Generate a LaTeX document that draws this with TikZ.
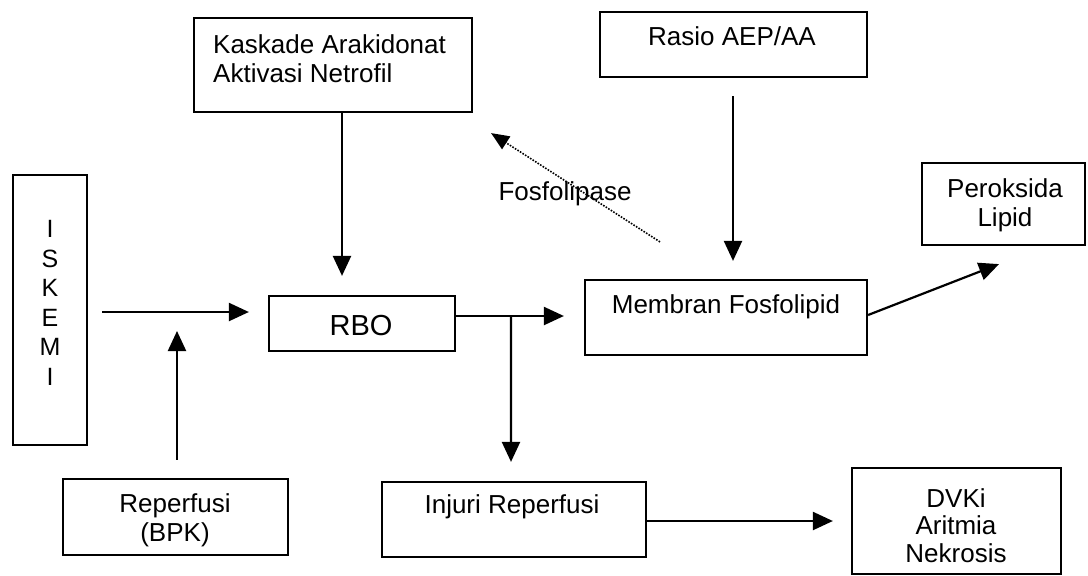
\documentclass[tikz,border=0pt]{standalone}
\usepackage{fontspec}
\setmainfont{Liberation Sans}
\usetikzlibrary{arrows.meta}
\begin{document}
\begin{tikzpicture}[x=1pt,y=-1pt,
  box/.style={draw=black, line width=2.2pt, rectangle, inner sep=0pt},
  txt/.style={inner sep=0pt, font=\fontsize{26}{29}\selectfont, text=black},
  arr/.style={draw=black, line width=2.2pt, -{Triangle[length=20pt,width=18pt]}},
  darr/.style={draw=black, line width=1.6pt, dash pattern=on 1.6pt off 1.4pt, -{Triangle[length=18pt,width=15pt]}}]
\useasboundingbox (0,0) rectangle (1088,576);
\fill[white] (0,0) rectangle (1088,576);

% boxes
\node[box, minimum width=278pt, minimum height=94pt] (kask) at (333,65) {};
\node[box, minimum width=267pt, minimum height=65pt] (rasio) at (733.5,44.5) {};
\node[box, minimum width=74pt, minimum height=270pt] (isk) at (50,310) {};
\node[box, minimum width=186pt, minimum height=55pt] (rbo) at (362,323.5) {};
\node[box, minimum width=282pt, minimum height=75pt] (mem) at (726,317.5) {};
\node[box, minimum width=163pt, minimum height=82pt] (per) at (1003.5,204) {};
\node[box, minimum width=225pt, minimum height=76pt] (rep) at (175.5,517) {};
\node[box, minimum width=264pt, minimum height=75pt] (inj) at (514,519.5) {};
\node[box, minimum width=209pt, minimum height=106pt] (dvk) at (956.5,521) {};

% texts
\node[txt, anchor=north west, align=left] (kaskT) at (213,34.4) {Kaskade Arakidonat\\Aktivasi Netrofil};
\node[txt, anchor=base] (rasioT) at (732,45) {Rasio AEP/AA};
\node[txt, anchor=north, align=center, font=\fontsize{25}{29.6}\selectfont] (iskT) at (50,220) {I\\S\\K\\E\\M\\I};
\node[txt, anchor=base, font=\fontsize{29}{32}\selectfont] (rboT) at (361,335) {RBO};
\node[txt, anchor=base] (memT) at (726,313) {Membran Fosfolipid};
\node[txt, anchor=north, align=center] (perT) at (1005,178.4) {Peroksida\\Lipid};
\node[txt, anchor=north, align=center] (repT) at (175,493.4) {Reperfusi\\(BPK)};
\node[txt, anchor=base] (injT) at (512,513) {Injuri Reperfusi};
\node[txt, anchor=north, align=center, font=\fontsize{26}{27.5}\selectfont] (dvkT) at (956,488) {DVKi\\Aritmia\\Nekrosis};
\node[txt, anchor=base] (fosT) at (565,200) {Fosfolipase};

% connectors
\draw[arr] ([xshift=9pt]kask.south) -- ([xshift=-20pt,yshift=19pt]rbo.north);
\draw[arr] ([xshift=-0.5pt,yshift=-18pt]rasio.south) -- ([xshift=7pt,yshift=18pt]mem.north);
\draw[arr] ([xshift=14pt,yshift=-2pt]isk.east) -- ([xshift=-19pt,yshift=11.5pt]rbo.west);
\coordinate (repTip) at (177,331);
\draw[arr] ([xshift=1.5pt,yshift=18pt]rep.north) -- (repTip);
\draw[arr] ([yshift=7.5pt]rbo.east) -- coordinate[pos=0.509] (br) ([xshift=-20pt,yshift=1.5pt]mem.west);
\draw[arr] (br) -- ([xshift=-3pt,yshift=19pt]inj.north);
\draw[arr] ([yshift=2.5pt]mem.east) -- ([xshift=-4.5pt,yshift=-18pt]per.south);
\draw[arr] ([yshift=-1.5pt]inj.east) -- ([xshift=-18pt]dvk.west);
\draw[darr] ([xshift=-66pt,yshift=37pt]mem.north) -- ([xshift=18pt,yshift=-20pt]kask.south east);
\end{tikzpicture}
\end{document}
